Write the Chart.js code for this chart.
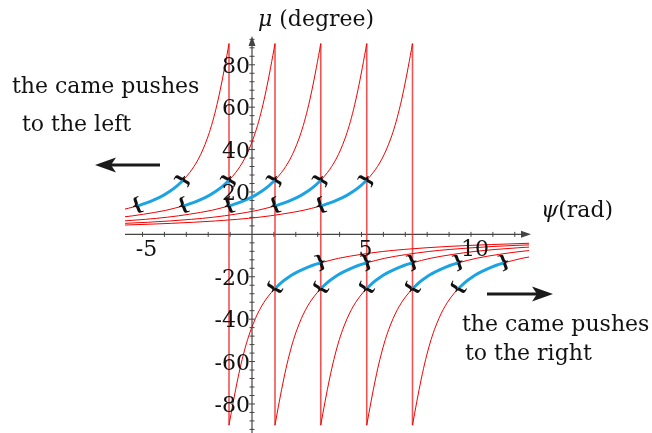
<!DOCTYPE html>
<html>
<head>
<meta charset="utf-8">
<script src="https://cdn.jsdelivr.net/npm/chart.js@4.4.1/dist/chart.umd.min.js"></script>
<style>
  html, body { margin: 0; padding: 0; background: #fff; }
  #wrap { width: 652px; height: 433px; }
</style>
</head>
<body>
<div id="wrap"><canvas id="chart" width="652" height="433"></canvas></div>
<script>
// asymptote positions (psi, rad) where mu jumps from +90 to -90
const asymptotes = [-1.05, 1.05, 3.14, 5.24, 7.33];
// distance from the asymptote and the mu value read on the branches
const branchOffset = [0, 0.02, 0.05, 0.1, 0.15, 0.2, 0.3, 0.4, 0.5, 0.6, 0.7, 0.8, 0.9, 1.0, 1.2, 1.4, 1.6, 1.8, 2.09, 2.4, 2.7, 3.0, 3.4, 3.8, 4.19, 4.6, 5.0, 6.0, 7.0, 8.0, 10, 12, 14];
const upperMu = [90, 88.9, 87.1, 84.3, 81.5, 78.7, 73.3, 68.2, 63.4, 59.0, 55.0, 51.3, 48.0, 45.0, 39.8, 35.5, 32.0, 29.1, 25.6, 22.6, 20.3, 18.4, 16.4, 14.7, 13.4, 12.3, 11.3, 9.5, 8.1, 7.1, 5.7, 4.8, 4.1];
const lowerMu = [-90, -88.9, -87.1, -84.3, -81.5, -78.7, -73.3, -68.2, -63.4, -59.0, -55.0, -51.3, -48.0, -45.0, -39.8, -35.5, -32.0, -29.1, -25.6, -22.6, -20.3, -18.4, -16.4, -14.7, -13.4, -12.3, -11.3, -9.5, -8.1, -7.1, -5.7, -4.8, -4.1];
// blue part of each branch (distance from asymptote)
const blueRange = [2.09, 4.19];
// axis labels
const xTickLabels = [-5, 5, 10];
const yTickLabels = [-80, -60, -40, -20, 20, 40, 60, 80];

const RED = '#f00000';
const BLUE = '#1ba3e2';
const FONT = '"DejaVu Serif", serif';

function upperBranch(a, lo, hi){
  const pts = [];
  for(let i = branchOffset.length - 1; i >= 0; i--){
    const d = branchOffset[i];
    if(d >= lo && d <= hi) pts.push({x: a - d, y: upperMu[i]});
  }
  return pts;
}
function lowerBranch(a, lo, hi){
  const pts = [];
  for(let i = 0; i < branchOffset.length; i++){
    const d = branchOffset[i];
    if(d >= lo && d <= hi) pts.push({x: a + d, y: lowerMu[i]});
  }
  return pts;
}

const datasets = [];
asymptotes.forEach(a=>{
  datasets.push({ data: upperBranch(a, 0, 99), borderColor: RED, borderWidth: 1, order: 2 });
  datasets.push({ data: lowerBranch(a, 0, 99), borderColor: RED, borderWidth: 1, order: 2 });
  datasets.push({ data: [{x: a, y: 90}, {x: a, y: -90}], borderColor: 'rgba(238,40,40,0.8)', borderWidth: 1.6, cubicInterpolationMode: 'default', order: 2 });
});
const blueUp = asymptotes.map(a=> upperBranch(a, blueRange[0], blueRange[1]));
const blueDown = asymptotes.map(a=> lowerBranch(a, blueRange[0], blueRange[1]));
blueUp.concat(blueDown).forEach(pts=>{
  datasets.push({ data: pts, borderColor: BLUE, borderWidth: 3, order: 1 });
});

function arrow(ctx, x1, x2, y){
  // horizontal arrow from x1 to tip x2
  const dir = Math.sign(x2 - x1);
  ctx.save();
  ctx.strokeStyle = '#1a1a1a'; ctx.fillStyle = '#1a1a1a'; ctx.lineWidth = 3;
  ctx.beginPath(); ctx.moveTo(x1, y); ctx.lineTo(x2 - dir*16, y); ctx.stroke();
  ctx.beginPath();
  ctx.moveTo(x2, y);
  ctx.lineTo(x2 - dir*21, y - 7.5);
  ctx.lineTo(x2 - dir*16, y);
  ctx.lineTo(x2 - dir*21, y + 7.5);
  ctx.closePath(); ctx.fill();
  ctx.restore();
}

function brace(ctx, ch, x, y, deg){
  ctx.save();
  ctx.translate(x, y);
  ctx.rotate(deg*Math.PI/180);
  ctx.font = 'bold 18px ' + FONT;
  ctx.fillStyle = '#111';
  ctx.textAlign = 'center';
  ctx.textBaseline = 'middle';
  ctx.fillText(ch, 0, 0);
  ctx.restore();
}

const decor = {
  id: 'decor',
  beforeDatasetsDraw(chart){
    const ctx = chart.ctx, xs = chart.scales.x, ys = chart.scales.y, area = chart.chartArea;
    const x0 = xs.getPixelForValue(0), y0 = ys.getPixelForValue(0);
    ctx.save();
    ctx.strokeStyle = '#444'; ctx.fillStyle = '#444'; ctx.lineWidth = 1.2;
    // x axis
    ctx.beginPath(); ctx.moveTo(area.left, y0); ctx.lineTo(area.right - 2, y0); ctx.stroke();
    ctx.beginPath(); ctx.moveTo(area.right + 2, y0); ctx.lineTo(area.right - 8, y0 - 3.5); ctx.lineTo(area.right - 8, y0 + 3.5); ctx.closePath(); ctx.fill();
    // y axis
    ctx.beginPath(); ctx.moveTo(x0, 433); ctx.lineTo(x0, area.top + 4); ctx.stroke();
    ctx.beginPath(); ctx.moveTo(x0, area.top - 1); ctx.lineTo(x0 - 3.5, area.top + 9); ctx.lineTo(x0 + 3.5, area.top + 9); ctx.closePath(); ctx.fill();
    ctx.lineWidth = 1;
    for(let v = -5; v <= 12; v++){
      if(v === 0) continue;
      const px = xs.getPixelForValue(v);
      ctx.beginPath(); ctx.moveTo(px, y0 - 2.5); ctx.lineTo(px, y0 + 2.5); ctx.stroke();
    }
    for(let v = -92; v <= 92; v += 4){
      if(v === 0) continue;
      const py = ys.getPixelForValue(v);
      const len = v % 20 === 0 ? 3 : 2.5;
      ctx.beginPath(); ctx.moveTo(x0 - len, py); ctx.lineTo(x0 + len, py); ctx.stroke();
    }
    ctx.restore();
  },
  afterDatasetsDraw(chart){
    const ctx = chart.ctx, xs = chart.scales.x, ys = chart.scales.y;
    const x0 = xs.getPixelForValue(0), y0 = ys.getPixelForValue(0);

    // braces at the ends of the blue arcs
    blueUp.forEach(pts=>{
      const s = pts[0], e = pts[pts.length - 1];
      brace(ctx, '{', xs.getPixelForValue(s.x), ys.getPixelForValue(s.y), -20);
      brace(ctx, '}', xs.getPixelForValue(e.x), ys.getPixelForValue(e.y), -60);
    });
    blueDown.forEach(pts=>{
      const s = pts[0], e = pts[pts.length - 1];
      brace(ctx, '{', xs.getPixelForValue(s.x), ys.getPixelForValue(s.y), -60);
      brace(ctx, '}', xs.getPixelForValue(e.x), ys.getPixelForValue(e.y), -20);
    });

    ctx.save();
    ctx.fillStyle = '#111';
    ctx.font = '22px ' + FONT;
    ctx.textBaseline = 'alphabetic';
    // tick labels
    ctx.textAlign = 'right';
    yTickLabels.forEach(v=>{
      ctx.fillText(String(v), x0 - 2, ys.getPixelForValue(v) + 8);
    });
    ctx.textAlign = 'center';
    xTickLabels.forEach(v=>{
      ctx.fillText(String(v), xs.getPixelForValue(v) + 4, y0 + 22);
    });

    // axis titles
    ctx.textAlign = 'left';
    ctx.font = 'italic 22px ' + FONT;
    ctx.fillText('μ', 258, 26);
    let w = ctx.measureText('μ').width;
    ctx.font = '22px ' + FONT;
    ctx.fillText(' (degree)', 258 + w, 26);
    ctx.font = 'italic 22px ' + FONT;
    ctx.fillText('ψ', 541, 217);
    w = ctx.measureText('ψ').width;
    ctx.font = '22px ' + FONT;
    ctx.fillText('(rad)', 541 + w, 217);

    // annotations
    ctx.fillText('the came pushes', 12, 93);
    ctx.fillText('to the left', 22, 131);
    ctx.fillText('the came pushes', 462, 331);
    ctx.fillText('to the right', 465, 360);
    ctx.restore();

    arrow(ctx, 160, 95, 165);
    arrow(ctx, 487, 553, 294);
  }
};

new Chart(document.getElementById('chart').getContext('2d'), {
  type: 'scatter',
  data: { datasets },
  options: {
    responsive: false,
    devicePixelRatio: 1,
    animation: false,
    events: [],
    layout: { padding: { left: 125, right: 123, top: 37, bottom: 0 } },
    elements: {
      point: { radius: 0 },
      line: { cubicInterpolationMode: 'monotone', fill: false }
    },
    datasets: { scatter: { showLine: true } },
    plugins: { legend: { display: false }, tooltip: { enabled: false } },
    scales: {
      x: { type: 'linear', min: -5.8, max: 12.65, display: false },
      y: { type: 'linear', min: -93.7, max: 93.1, display: false }
    }
  },
  plugins: [decor]
});
</script>
</body>
</html>
